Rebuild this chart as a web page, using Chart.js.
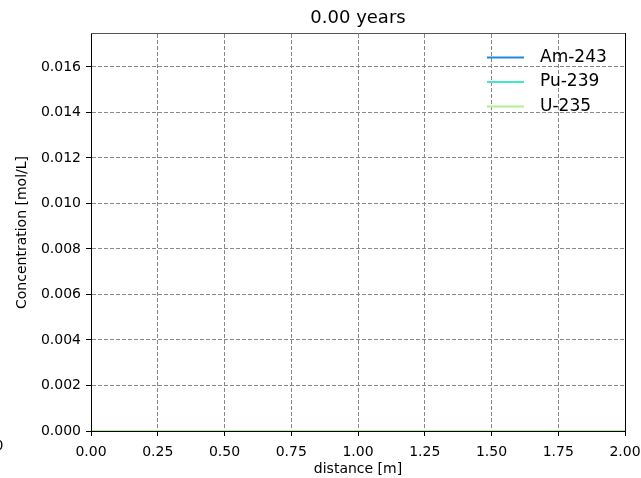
<!DOCTYPE html>
<html><head><meta charset="utf-8">
<script src="https://cdn.jsdelivr.net/npm/chart.js@4"></script>
<style>html,body{margin:0;padding:0;background:#fff;overflow:hidden}#wrap{width:641px;height:478px;position:relative}</style>
</head><body><div id="wrap"><canvas id="c" width="641" height="478"></canvas></div>
<script>
const titleText = '0.00 years';
const xLabel = 'distance [m]';
const yLabel = 'Concentration [mol/L]';
const strayText = '0';
const seriesNames = ['Am-243', 'Pu-239', 'U-235'];
const seriesColors = ['#1f88e5', '#40e8c8', '#b0f090'];
const distance = [0, 0.25, 0.5, 0.75, 1.0, 1.25, 1.5, 1.75, 2.0];
const am243 = [0, 0, 0, 0, 0, 0, 0, 0, 0];
const pu239 = [0, 0, 0, 0, 0, 0, 0, 0, 0];
const u235 = [0, 0, 0, 0, 0, 0, 0, 0, 0];
const xTicks = [0, 0.25, 0.5, 0.75, 1.0, 1.25, 1.5, 1.75, 2.0];
const yTicks = [0, 0.002, 0.004, 0.006, 0.008, 0.010, 0.012, 0.014, 0.016];
const xMin = 0, xMax = 2.0;
const yMin = 0, yMax = 0.01745;

const FONT = 'DejaVu Sans';
const series = [am243, pu239, u235];

const decor = {
  id: 'decor',
  afterDraw(chart) {
    const {ctx, chartArea: a} = chart;
    ctx.save();
    // top & right spines
    ctx.lineWidth = 1;
    ctx.strokeStyle = '#555';
    ctx.beginPath(); ctx.moveTo(a.left, a.top - 0.5); ctx.lineTo(a.right + 1, a.top - 0.5); ctx.stroke();
    ctx.strokeStyle = '#000';
    ctx.beginPath(); ctx.moveTo(a.right + 0.5, a.top - 1); ctx.lineTo(a.right + 0.5, a.bottom + 1); ctx.stroke();
    // title
    ctx.fillStyle = '#000';
    ctx.font = '18px "' + FONT + '"';
    ctx.textAlign = 'center'; ctx.textBaseline = 'middle';
    ctx.fillText(titleText, (a.left + a.right) / 2, 18);
    // legend
    ctx.font = '17px "' + FONT + '"';
    ctx.textAlign = 'left';
    chart.data.datasets.forEach((ds, i) => {
      const y = 57.5 + 24.5 * i;
      ctx.strokeStyle = ds.borderColor; ctx.lineWidth = 2;
      ctx.beginPath(); ctx.moveTo(487, y); ctx.lineTo(524, y); ctx.stroke();
      ctx.fillStyle = '#000';
      ctx.fillText(ds.label, 540, y);
    });
    // stray clipped label at left edge
    ctx.font = '14px "' + FONT + '"';
    ctx.fillText(strayText, -5.5, 446);
    ctx.restore();
  }
};

const tickFont = {family: FONT, size: 14};
new Chart(document.getElementById('c'), {
  type: 'line',
  data: {
    datasets: series.map((s, i) => ({
      label: seriesNames[i],
      data: distance.map((d, j) => ({x: d, y: s[j]})),
      borderColor: seriesColors[i],
      backgroundColor: seriesColors[i],
      borderWidth: 2,
      pointRadius: 0,
      fill: false,
      tension: 0,
      order: series.length - i
    }))
  },
  options: {
    responsive: false,
    animation: false,
    devicePixelRatio: 1,
    layout: {padding: {top: 34, right: 16, left: 0, bottom: 0}},
    plugins: {legend: {display: false}, title: {display: false}, tooltip: {enabled: false}},
    scales: {
      x: {
        type: 'linear', min: xMin, max: xMax,
        afterBuildTicks: s => { s.ticks = xTicks.map(v => ({value: v})); },
        afterFit: s => { s.height = 47; s.paddingLeft = 0; s.paddingRight = 0; },
        ticks: {callback: v => Number(v).toFixed(2), font: tickFont, color: '#000', padding: 8, maxRotation: 0, autoSkip: false},
        grid: {color: '#888', lineWidth: 1, tickLength: 5, tickColor: '#000', tickWidth: 1, tickBorderDash: []},
        border: {display: true, color: '#000', width: 1, dash: [4, 2], z: 1},
        title: {display: true, text: xLabel, font: tickFont, color: '#000', padding: {top: 0, bottom: 0}}
      },
      y: {
        type: 'linear', min: yMin, max: yMax,
        afterBuildTicks: s => { s.ticks = yTicks.map(v => ({value: v})); },
        afterFit: s => { s.width = 91; s.paddingTop = 0; s.paddingBottom = 0; },
        ticks: {callback: v => Number(v).toFixed(3), font: tickFont, color: '#000', padding: 5, autoSkip: false},
        grid: {color: '#888', lineWidth: 1, tickLength: 5, tickColor: '#000', tickWidth: 1, tickBorderDash: []},
        border: {display: true, color: '#000', width: 1, dash: [4, 2], z: 1},
        title: {display: true, text: yLabel, font: tickFont, color: '#000', padding: {top: 13.6, bottom: 0}}
      }
    }
  },
  plugins: [decor]
});
</script>
</body></html>
